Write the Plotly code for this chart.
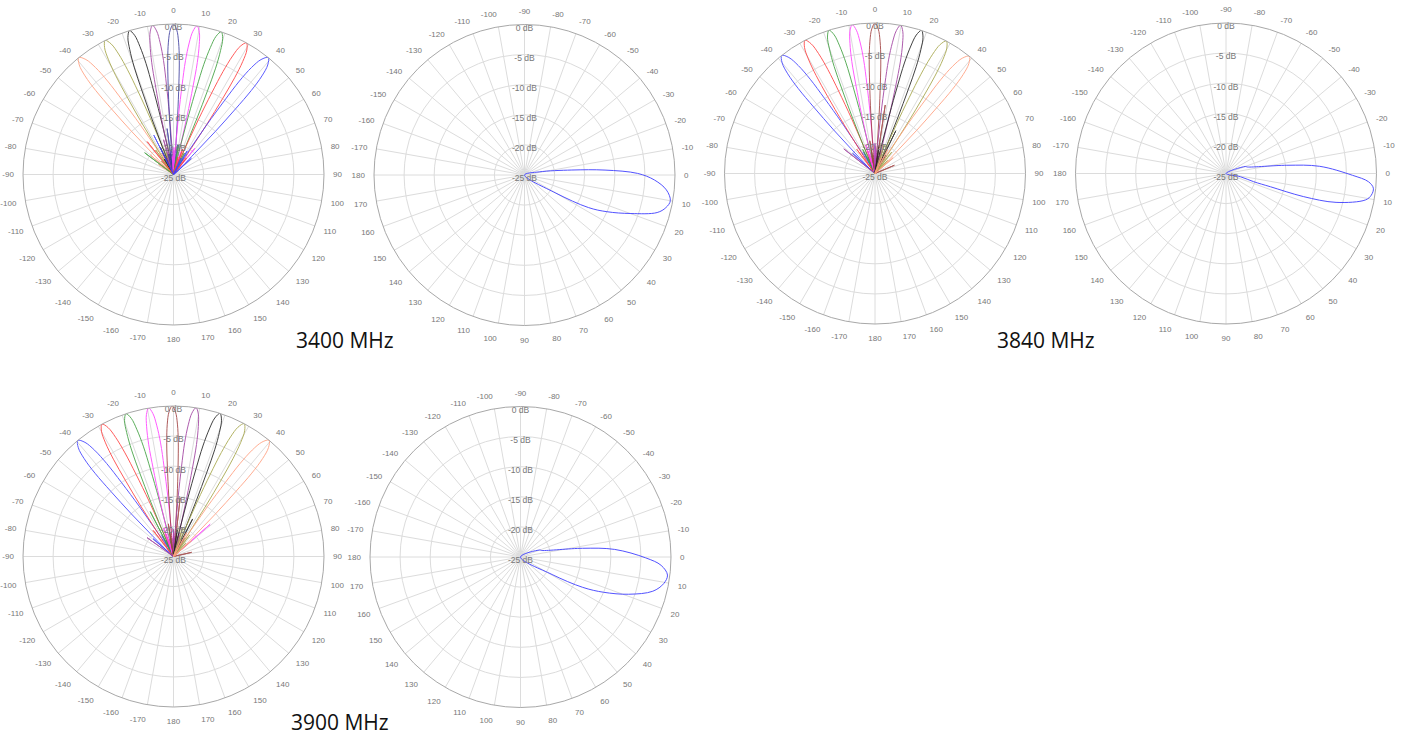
import plotly.graph_objects as go

W, H = 1408, 738

# ---------------- data ----------------
MAIN_R = [-25, -20, -15, -10, -6, -3, -1, 0, -1, -3, -6, -10, -15, -20, -25]

COL_SALMON = "#ff9f7f"
COL_OLIVE = "#a6a64a"
COL_BLACK = "#222222"
COL_PURPLE = "#a040a0"
COL_NAVY = "#40409f"
COL_MAGENTA = "#ff40ff"
COL_GREEN = "#40a040"
COL_RED = "#ff4040"
COL_BLUE = "#4040ff"
COL_BROWN = "#a04040"

# 3400 MHz, azimuth beams
P1_COLORS = [COL_SALMON, COL_OLIVE, COL_BLACK, COL_PURPLE, COL_NAVY, COL_MAGENTA, COL_GREEN, COL_RED, COL_BLUE]
P1_THETA = [
    [-45.8, -45.0, -44.2, -43.4, -42.8, -41.9, -40.7, -39, -37.3, -36.1, -35.2, -34.6, -33.8, -33.0, -32.2],
    [-32.9, -32.2, -31.6, -30.9, -30.3, -29.5, -28.5, -27, -25.5, -24.5, -23.7, -23.1, -22.4, -21.8, -21.1],
    [-22.5, -21.9, -21.2, -20.6, -20.1, -19.3, -18.4, -17, -15.6, -14.7, -13.9, -13.4, -12.8, -12.1, -11.5],
    [-13.3, -12.7, -12.1, -11.5, -11.0, -10.2, -9.3, -8, -6.7, -5.8, -5.0, -4.5, -3.9, -3.3, -2.7],
    [-5.2, -4.6, -4.0, -3.4, -2.9, -2.2, -1.3, 0, 1.3, 2.2, 2.9, 3.4, 4.0, 4.6, 5.2],
    [3.7, 4.3, 4.9, 5.5, 6.0, 6.8, 7.7, 9, 10.3, 11.2, 12.0, 12.5, 13.1, 13.7, 14.3],
    [13.0, 13.6, 14.3, 14.9, 15.4, 16.2, 17.1, 18.5, 19.9, 20.8, 21.6, 22.1, 22.7, 23.4, 24.0],
    [23.1, 23.8, 24.4, 25.1, 25.7, 26.5, 27.5, 29, 30.5, 31.5, 32.3, 32.9, 33.6, 34.2, 34.9],
    [32.2, 33.0, 33.8, 34.6, 35.2, 36.1, 37.3, 39, 40.7, 41.9, 42.8, 43.4, 44.2, 45.0, 45.8],
]
P1_SIDE_THETA = [[-50, -29, -56], [-36, -18, -42], [-26, -8, -31], [-16, 1, -21], [-8, 8, -14],
                 [1, 18, 39, -4], [-53, 10, 27, 32], [-38.7, 20, 38, 14], [-26.6, 30, 48, 24]]
P1_SIDE_R = [[-20, -21, -22], [-20, -21, -22], [-20, -21.5, -22], [-19, -21, -22], [-17.3, -20, -21.5],
             [-20.5, -21, -19.4, -22], [-19, -20, -21, -22], [-18, -20.5, -21.5, -22], [-17.7, -20.5, -21, -22]]

# 3840 MHz, azimuth beams
P3_COLORS = [COL_BLUE, COL_RED, COL_GREEN, COL_MAGENTA, COL_BROWN, COL_PURPLE, COL_BLACK, COL_OLIVE, COL_SALMON]
P3_THETA = [
    [-45.1, -44.3, -43.5, -42.7, -42.1, -41.2, -40.0, -38.3, -36.6, -35.4, -34.5, -33.9, -33.1, -32.3, -31.5],
    [-33.6, -32.9, -32.3, -31.6, -31.0, -30.2, -29.2, -27.7, -26.2, -25.2, -24.4, -23.8, -23.1, -22.5, -21.8],
    [-23.3, -22.7, -22.0, -21.4, -20.9, -20.1, -19.2, -17.8, -16.4, -15.5, -14.7, -14.2, -13.6, -12.9, -12.3],
    [-14.0, -13.4, -12.8, -12.2, -11.7, -10.9, -10.0, -8.7, -7.4, -6.5, -5.7, -5.2, -4.6, -4.0, -3.4],
    [-5.2, -4.6, -4.0, -3.4, -2.9, -2.2, -1.3, 0, 1.3, 2.2, 2.9, 3.4, 4.0, 4.6, 5.2],
    [4.5, 5.1, 5.7, 6.3, 6.8, 7.6, 8.5, 9.8, 11.1, 12.0, 12.8, 13.3, 13.9, 14.5, 15.1],
    [12.5, 13.1, 13.8, 14.4, 14.9, 15.7, 16.6, 18, 19.4, 20.3, 21.1, 21.6, 22.2, 22.9, 23.5],
    [22.4, 23.1, 23.7, 24.4, 25.0, 25.8, 26.8, 28.3, 29.8, 30.8, 31.6, 32.2, 32.9, 33.5, 34.2],
    [32.0, 32.8, 33.6, 34.4, 35.0, 35.9, 37.1, 38.8, 40.5, 41.7, 42.6, 43.2, 44.0, 44.8, 45.6],
]
P3_SIDE_THETA = [[-48, -28, -23], [-37, -18, -13], [-27, -9, -4], [-18, 1, 5], [-9, 8.5, 67, 14],
                 [-51.7, 0, 18, 23], [8, 26, 31], [18, 38, 44], [28, 49, 22]]
P3_SIDE_R = [[-20, -21, -22], [-20, -21, -22], [-20.5, -21, -22], [-20, -20.5, -22], [-19.5, -13.5, -21.5, -21],
             [-18.4, -20, -21, -22], [-20.5, -17.1, -21.5], [-20, -20.5, -22], [-20.5, -21, -22]]

# 3900 MHz, azimuth beams
P5_COLORS = [COL_BLUE, COL_RED, COL_GREEN, COL_MAGENTA, COL_BROWN, COL_PURPLE, COL_BLACK, COL_OLIVE, COL_SALMON]
P5_THETA = [
    [-46.3, -45.5, -44.7, -43.9, -43.3, -42.4, -41.2, -39.5, -37.8, -36.6, -35.7, -35.1, -34.3, -33.5, -32.7],
    [-34.3, -33.6, -33.0, -32.3, -31.7, -30.9, -29.9, -28.4, -26.9, -25.9, -25.1, -24.5, -23.8, -23.2, -22.5],
    [-23.9, -23.3, -22.6, -22.0, -21.5, -20.7, -19.8, -18.4, -17.0, -16.1, -15.3, -14.8, -14.2, -13.5, -12.9],
    [-14.8, -14.2, -13.6, -13.0, -12.5, -11.7, -10.8, -9.5, -8.2, -7.3, -6.5, -6.0, -5.4, -4.8, -4.2],
    [-5.7, -5.1, -4.5, -3.9, -3.4, -2.7, -1.8, -0.5, 0.8, 1.7, 2.4, 2.9, 3.5, 4.1, 4.7],
    [3.3, 3.9, 4.5, 5.1, 5.6, 6.4, 7.3, 8.6, 9.9, 10.8, 11.6, 12.1, 12.7, 13.3, 13.9],
    [12.5, 13.1, 13.8, 14.4, 14.9, 15.7, 16.6, 18, 19.4, 20.3, 21.1, 21.6, 22.2, 22.9, 23.5],
    [22.1, 22.8, 23.4, 24.1, 24.7, 25.5, 26.5, 28, 29.5, 30.5, 31.3, 31.9, 32.6, 33.2, 33.9],
    [32.6, 33.4, 34.2, 35.0, 35.6, 36.5, 37.7, 39.4, 41.1, 42.3, 43.2, 43.8, 44.6, 45.4, 46.2],
]
P5_SIDE_THETA = [[-49, -29, -24], [-38, -19, -14], [-27.4, -9, -4], [-19, 0, 48.7, 5], [-9, 6.5, 77, 13],
                 [-54.5, 0, 17, 22], [8, 27, 32], [18, 37, 43], [29, 49, 23]]
P5_SIDE_R = [[-20.5, -21, -22], [-19.5, -21, -22], [-16.6, -20.5, -22], [-20, -21, -16.9, -22], [-19.5, -15.2, -21.9, -21],
             [-19.6, -20.5, -21, -22], [-20.5, -18, -21.5], [-20, -20.5, -22], [-20.5, -21, -22]]

# elevation beams
P2_THETA = [-18, -12, -6, -3.5, -0.8, 2.2, 6, 10, 13, 15.8, 19.9, 24, 27, 30, 32]
P2_R = [-25, -22.5, -17.1, -11.6, -6.2, -3.4, -1.3, -0.4, -0.9, -2.1, -6.2, -10, -13.1, -19, -25]
P4_THETA = [-25, -20, -17, -7.7, -4.4, 0.8, 3.3, 5.7, 8.5, 10.7, 14.7, 16.6, 16.6, 16.5, 12.8, 10]
P4_R = [-25, -21.6, -21.3, -14.8, -9.4, -4.0, -1.3, -0.4, -0.6, -1.4, -6.1, -11.6, -17.3, -20.2, -22.5, -25]
P6_THETA = [-25, -20, -17, -8, -4.6, 0.4, 3.4, 7, 10.5, 14.5, 19, 23, 26, 29, 30]
P6_R = [-25, -21.6, -21.3, -14.6, -9.3, -4.2, -1.6, -0.4, -0.8, -2.3, -6, -10, -13.5, -19, -25]

RADIAL_VALS = [0, -5, -10, -15, -20, -25]
RADIAL_TEXT = ["0 dB", "-5 dB", "-10 dB", "-15 dB", "-20 dB", "-25 dB"]
ANG_VALS = list(range(0, 360, 10))
ANG_TEXT = ["0", "10", "20", "30", "40", "50", "60", "70", "80", "90", "100", "110", "120", "130", "140",
            "150", "160", "170", "180", "-170", "-160", "-150", "-140", "-130", "-120", "-110", "-100",
            "-90", "-80", "-70", "-60", "-50", "-40", "-30", "-20", "-10"]

TITLES = ["3400 MHz", "3840 MHz", "3900 MHz"]

# ---------------- figure ----------------
R = 150.5
PANELS = [  # (cx, cy, rotation, angle of radial labels)
    (173.5, 174.5, 90, 0),
    (524.5, 175.0, 0, -90),
    (875.0, 173.5, 90, 0),
    (1226.0, 173.5, 0, -90),
    (173.5, 556.5, 90, 0),
    (520.5, 557.0, 0, -90),
]

fig = go.Figure()
SPIKE = 1.3


def add_az(sub, thetas, colors, side_t, side_r):
    for th, col, st, sr in zip(thetas, colors, side_t, side_r):
        fig.add_trace(go.Scatterpolar(theta=th, r=MAIN_R, mode="lines", subplot=sub,
                                      line=dict(color=col, width=1, shape="spline"), opacity=0.85,
                                      showlegend=False, hoverinfo="skip"))
        tt, rr = [], []
        for t, v in zip(st, sr):
            tt += [t - SPIKE, t, t + SPIKE, None]
            rr += [-25, v, -25, None]
        fig.add_trace(go.Scatterpolar(theta=tt, r=rr, mode="lines", subplot=sub,
                                      line=dict(color=col, width=1), opacity=0.85,
                                      showlegend=False, hoverinfo="skip"))


def add_el(sub, th, rr):
    fig.add_trace(go.Scatterpolar(theta=th, r=rr, mode="lines", subplot=sub,
                                  line=dict(color=COL_BLUE, width=1, shape="spline"), opacity=0.9,
                                  showlegend=False, hoverinfo="skip"))


add_az("polar", P1_THETA, P1_COLORS, P1_SIDE_THETA, P1_SIDE_R)
add_el("polar2", P2_THETA, P2_R)
add_az("polar3", P3_THETA, P3_COLORS, P3_SIDE_THETA, P3_SIDE_R)
add_el("polar4", P4_THETA, P4_R)
add_az("polar5", P5_THETA, P5_COLORS, P5_SIDE_THETA, P5_SIDE_R)
add_el("polar6", P6_THETA, P6_R)

layout = dict(width=W, height=H, autosize=False, margin=dict(l=0, r=0, t=0, b=0),
              paper_bgcolor="white", plot_bgcolor="white", showlegend=False)

for i, (cx, cy, rot, lab_ang) in enumerate(PANELS):
    key = "polar" if i == 0 else f"polar{i+1}"
    fig.add_trace(go.Scatterpolar(theta=[lab_ang] * len(RADIAL_VALS), r=RADIAL_VALS, text=RADIAL_TEXT,
                                  mode="text", textposition="bottom center", subplot=key,
                                  textfont=dict(size=8.5, color="#777777", family="Liberation Sans, Arial"),
                                  showlegend=False, hoverinfo="skip"))
    layout[key] = dict(
        domain=dict(x=[(cx - R) / W, (cx + R) / W], y=[1 - (cy + R) / H, 1 - (cy - R) / H]),
        bgcolor="rgba(0,0,0,0)",
        radialaxis=dict(range=[-25, 0], tickvals=[-20, -15, -10, -5, 0], showticklabels=False,
                        ticks="", showline=False, gridcolor="#dcdcdc", gridwidth=1, angle=90),
        angularaxis=dict(rotation=rot, direction="clockwise", tickmode="array", tickvals=ANG_VALS,
                         ticktext=ANG_TEXT, tickfont=dict(size=8, color="#777777", family="Liberation Sans, Arial"),
                         gridcolor="#dcdcdc", gridwidth=1, showline=True, linecolor="#a8a8a8", linewidth=1,
                         ticks="outside", ticklen=7, tickcolor="rgba(0,0,0,0)"),
    )

fig.update_layout(**layout)

TITLE_POS = [(345, 340), (1046, 340), (340, 722)]
for txt, (x, y) in zip(TITLES, TITLE_POS):
    fig.add_annotation(text=txt, x=x / W, y=1 - y / H, xref="paper", yref="paper", showarrow=False,
                       xanchor="center", yanchor="middle",
                       font=dict(size=21, color="#111111", family="Open Sans"))

fig.write_html("out.html", config={"displayModeBar": False},
               post_script="document.body.style.margin='0';")
